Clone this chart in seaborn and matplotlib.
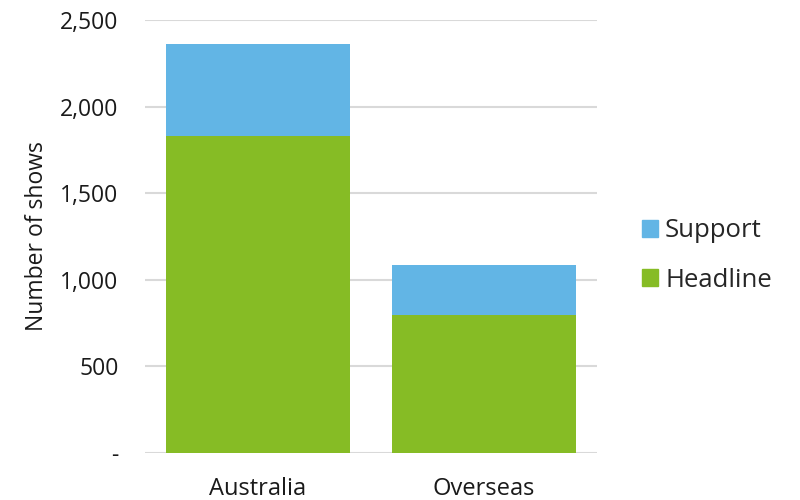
import matplotlib
matplotlib.use("Agg")
import matplotlib.pyplot as plt
import matplotlib.patches as mpatches
import seaborn as sns
import pandas as pd
from matplotlib.ticker import FuncFormatter

categories = ["Australia", "Overseas"]
headline = [1830, 797]
support = [531, 287]
series_names = ["Support", "Headline"]
yticks = [0, 500, 1000, 1500, 2000, 2500]

sns.set_theme(style="white")
plt.rcParams['font.family'] = ['Open Sans', 'DejaVu Sans']

blue = "#62B5E5"
green = "#86BC25"

totals = [h + s for h, s in zip(headline, support)]
df = pd.DataFrame({"cat": categories, "headline": headline, "total": totals})

fig = plt.figure(figsize=(8, 5), dpi=100)
ax = fig.add_axes([0.18125, 0.094, 0.565, 0.866])

sns.barplot(data=df, x="cat", y="total", color=blue, width=0.81, ax=ax,
            saturation=1, edgecolor="none")
sns.barplot(data=df, x="cat", y="headline", color=green, width=0.81, ax=ax,
            saturation=1, edgecolor="none")

ax.set_ylim(0, 2500)
ax.set_xlim(-0.5, 1.5)
ax.set_yticks(yticks)
ax.yaxis.set_major_formatter(FuncFormatter(lambda v, p: "-" if v == 0 else f"{int(v):,}"))
ax.grid(axis="y", color="#d9d9d9", linewidth=1.5)
ax.set_axisbelow(True)
for s in ax.spines.values():
    s.set_visible(False)
ax.tick_params(axis="y", length=0, pad=19, labelsize=16.5, colors="#1a1a1a")
ax.tick_params(axis="x", length=0, pad=17, labelsize=17, colors="#1a1a1a")
ax.set_xlabel("")
ax.set_ylabel("Number of shows", fontsize=16.5, color="#1a1a1a", labelpad=8)

handles = [mpatches.Patch(color=blue, label=series_names[0]),
           mpatches.Patch(color=green, label=series_names[1])]
fig.legend(handles=handles, loc="center left", bbox_to_anchor=(0.8025, 0.489),
           frameon=False, fontsize=18.5, handlelength=0.62, handleheight=0.62,
           handletextpad=0.28, labelspacing=0.95, borderpad=0, borderaxespad=0)

fig.savefig("out.png", dpi=100)
